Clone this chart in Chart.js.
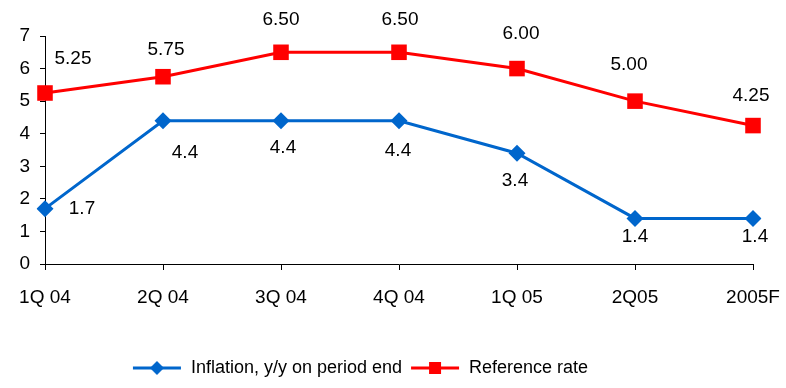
<!DOCTYPE html>
<html>
<head>
<meta charset="utf-8">
<script src="https://cdn.jsdelivr.net/npm/chart.js@4/dist/chart.umd.min.js"></script>
<style>
  html,body{margin:0;padding:0;background:#fff;}
  #wrap{width:786px;height:388px;}
</style>
</head>
<body>
<div id="wrap"><canvas id="rates"></canvas></div>
<script>
let quarters = ["1Q 04","2Q 04","3Q 04","4Q 04","1Q 05","2Q05","2005F"];
let inflation = [1.7, 4.4, 4.4, 4.4, 3.4, 1.4, 1.4];
let refRate = [5.25, 5.75, 6.50, 6.50, 6.00, 5.00, 4.25];
let yTicks = [0,1,2,3,4,5,6,7];

const BLUE = "#0066CC", RED = "#FF0000";
const FONT = "'Liberation Sans', Arial, sans-serif";

// value label nudges, px from the marker centre
let inflLabelPos = [[37,0],[22,32],[2,27],[-1,30],[-2,28],[0,18],[2,18]];
let rateLabelPos = [[28,-34],[3,-27],[0,-33],[1,-33],[4,-35],[-6,-36],[-2,-30]];

// small line+marker swatch for the legend
function swatch(color, style, r){
    let c = document.createElement("canvas");
    c.width = 50; c.height = 20;
    let g = c.getContext("2d");
    g.strokeStyle = color; g.lineWidth = 3;
    g.beginPath(); g.moveTo(1,10); g.lineTo(49,10); g.stroke();
    g.fillStyle = color;
    g.beginPath();
    if(style === "diamond"){
        g.moveTo(25,10-r); g.lineTo(25+r,10); g.lineTo(25,10+r); g.lineTo(25-r,10);
    } else {
        g.rect(25-r,10-r,2*r,2*r);
    }
    g.closePath(); g.fill();
    return c;
}
let legendMarks = [swatch(BLUE,"diamond",7), swatch(RED,"square",6)];

const valueLabels = {
    id: "valueLabels",
    afterLayout(chart){
        // legend sits a little left of the plot centre
        chart.legend.right -= 33;
    },
    afterDatasetsDraw(chart){
        let ctx = chart.ctx;
        ctx.save();
        ctx.font = "19px " + FONT;
        ctx.fillStyle = "#000";
        ctx.textAlign = "center";
        ctx.textBaseline = "middle";
        chart.data.datasets.forEach((ds,i)=>{
            let meta = chart.getDatasetMeta(i);
            meta.data.forEach((pt,j)=>{
                let off = ds.labelPos[j];
                ctx.fillText(ds.data[j].toFixed(ds.digits), pt.x+off[0], pt.y+off[1]);
            });
        });
        ctx.restore();
    }
};

let ctx = document.getElementById("rates").getContext("2d");
let chart = new Chart(ctx,{
    type:"line",
    data:{
        labels:quarters,
        datasets:[
            {label:"Inflation, y/y on period end", data:inflation, borderColor:BLUE, backgroundColor:BLUE,
             borderWidth:3, pointStyle:"rectRot", pointRadius:8.5, pointHoverRadius:8.5, pointBorderWidth:0,
             tension:0, digits:1, labelPos:inflLabelPos},
            {label:"Reference rate", data:refRate, borderColor:RED, backgroundColor:RED,
             borderWidth:3, pointStyle:"rect", pointRadius:11, pointHoverRadius:11, pointBorderWidth:0,
             tension:0, digits:2, labelPos:rateLabelPos}
        ]
    },
    options:{
        responsive:true, maintainAspectRatio:false, animation:false,
        layout:{padding:{top:36,right:33,left:0,bottom:1}},
        plugins:{
            tooltip:{enabled:false},
            legend:{
                position:"bottom",
                labels:{
                    usePointStyle:true, pointStyleWidth:50, boxHeight:18, padding:8,
                    color:"#000", font:{family:FONT,size:18},
                    generateLabels(chart){
                        let items = Chart.defaults.plugins.legend.labels.generateLabels(chart);
                        items.forEach((it,i)=>{ it.pointStyle = legendMarks[i]; });
                        return items;
                    }
                }
            }
        },
        scales:{
            x:{
                offset:false,
                grid:{drawOnChartArea:false, drawTicks:true, tickLength:6, color:"#000", tickColor:"#000"},
                border:{color:"#000", width:1},
                ticks:{color:"#000", font:{family:FONT,size:19}, padding:16, maxRotation:0, autoSkip:false},
                afterFit(s){ s.height = 87; s.paddingLeft = 0; s.paddingRight = 0; }
            },
            y:{
                min:0, max:7,
                afterBuildTicks(s){ s.ticks = yTicks.map(v=>({value:v})); },
                grid:{drawOnChartArea:false, drawTicks:true, tickLength:5, color:"#000", tickColor:"#000"},
                border:{color:"#000", width:1},
                ticks:{color:"#000", font:{family:FONT,size:19}, padding:10},
                afterFit(s){ s.width = 45; }
            }
        }
    },
    plugins:[valueLabels]
});
</script>
</body>
</html>
